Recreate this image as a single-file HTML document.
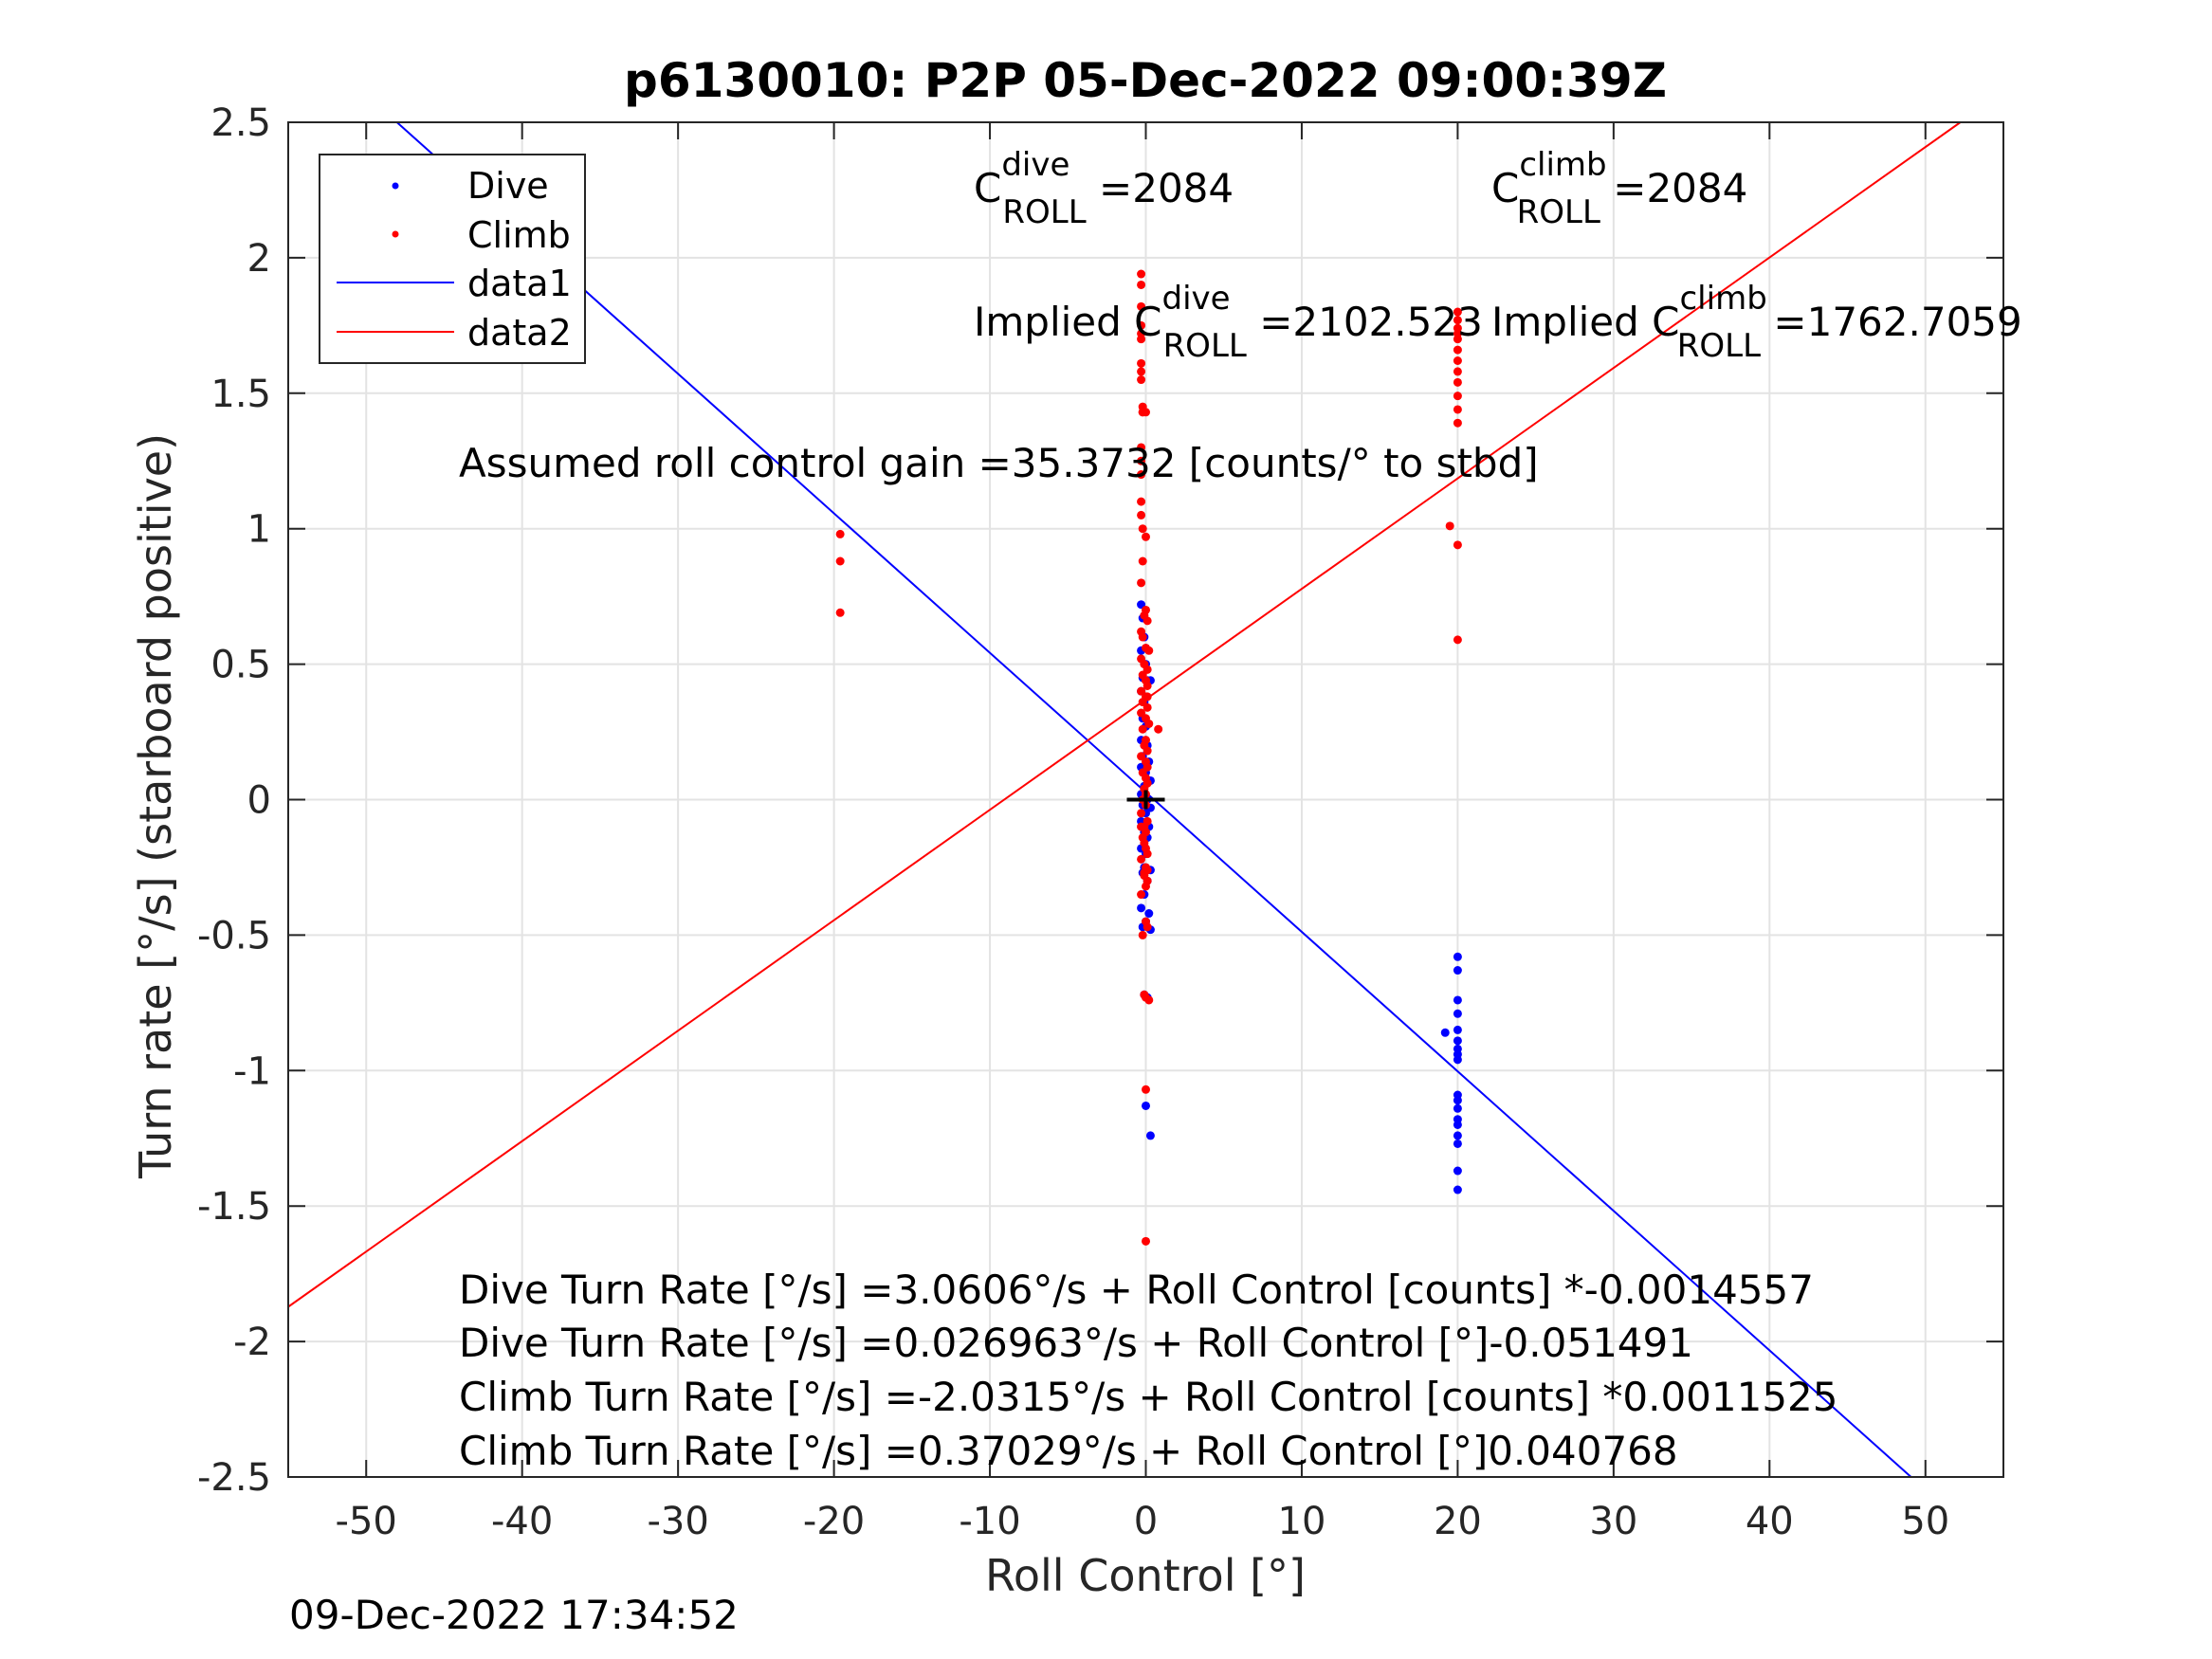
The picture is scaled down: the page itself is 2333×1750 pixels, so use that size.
<!DOCTYPE html>
<html><head><meta charset="utf-8"><style>
html,body{margin:0;padding:0;background:#fff}
svg{display:block;font-family:"DejaVu Sans","Liberation Sans",sans-serif}
</style></head><body>
<svg id="chart" width="2333" height="1750" viewBox="0 0 2333 1750" xmlns="http://www.w3.org/2000/svg">
<rect width="2333" height="1750" fill="#fff"/>
<g id="grid"></g>
<g id="lines"></g>
<g id="pts"></g>
<g id="axes"></g>
<text x="1208" y="102" text-anchor="middle" font-size="50" font-weight="bold" fill="#000">p6130010: P2P 05-Dec-2022 09:00:39Z</text>
<text x="1208" y="1678" text-anchor="middle" font-size="46" fill="#262626">Roll Control [°]</text>
<text transform="translate(180,850) rotate(-90)" text-anchor="middle" font-size="46" fill="#262626">Turn rate [°/s] (starboard positive)</text>
<text x="305" y="1718" font-size="42" fill="#000">09-Dec-2022 17:34:52</text>
<g font-size="42" fill="#000">
<text x="1027" y="213">C<tspan font-size="34" dy="-28">dive</tspan><tspan font-size="34" dx="-71" dy="50">ROLL</tspan><tspan dy="-22"> =2084</tspan></text>
<text x="1573" y="213">C<tspan font-size="34" dy="-28">climb</tspan><tspan font-size="34" dx="-95" dy="50">ROLL</tspan><tspan dy="-22"> =2084</tspan></text>
<text x="1027" y="354">Implied C<tspan font-size="34" dy="-28">dive</tspan><tspan font-size="34" dx="-71" dy="50">ROLL</tspan><tspan dy="-22"> =2102.523</tspan></text>
<text x="1573" y="354">Implied C<tspan font-size="34" dy="-28">climb</tspan><tspan font-size="34" dx="-95" dy="50">ROLL</tspan><tspan dy="-22"> =1762.7059</tspan></text>
<text x="484" y="503">Assumed roll control gain =35.3732 [counts/° to stbd]</text>
<text x="484" y="1375">Dive Turn Rate [°/s] =3.0606°/s + Roll Control [counts] *-0.0014557</text>
<text x="484" y="1431">Dive Turn Rate [°/s] =0.026963°/s + Roll Control [°]-0.051491</text>
<text x="484" y="1488">Climb Turn Rate [°/s] =-2.0315°/s + Roll Control [counts] *0.0011525</text>
<text x="484" y="1545">Climb Turn Rate [°/s] =0.37029°/s + Roll Control [°]0.040768</text>
</g>
<g>
<rect x="337" y="163" width="280" height="220" fill="#fff" stroke="#262626" stroke-width="2"/>
<circle cx="417" cy="196" r="3.5" fill="#00f"/>
<text x="493" y="209" font-size="38" fill="#000">Dive</text>
<circle cx="417" cy="247" r="3.5" fill="#f00"/>
<text x="493" y="261" font-size="38" fill="#000">Climb</text>
<line x1="355" y1="298" x2="479" y2="298" stroke="#00f" stroke-width="2"/>
<text x="493" y="312" font-size="38" fill="#000">data1</text>
<line x1="355" y1="350" x2="479" y2="350" stroke="#f00" stroke-width="2"/>
<text x="493" y="364" font-size="38" fill="#000">data2</text>
</g>
</svg>
<script>
const xTicks=[-50,-40,-30,-20,-10,0,10,20,30,40,50];
const yTicks=[-2.5,-2,-1.5,-1,-0.5,0,0.5,1,1.5,2,2.5];
const yTickLabels=["-2.5","-2","-1.5","-1","-0.5","0","0.5","1","1.5","2","2.5"];
const diveFit=[0.026963,-0.051491];
const climbFit=[0.37029,0.040768];
const climbX=[-0.3,-0.3,-0.3,-0.3,-0.3,-0.3,-0.3,-0.3,-0.3,-0.2,-0.2,-0.2,0,-0.3,-0.3,-0.3,-0.3,-0.3,-0.2,0,-0.2,-0.3,0,-0.1,0.1,-0.3,-0.2,0,0.2,-0.3,-0.1,0.1,-0.2,0,0.1,-0.3,0,-0.2,0.1,-0.3,0,0.2,-0.2,0,-0.1,0.1,-0.3,0,0.1,-0.2,0,0.1,-0.1,0,-0.2,0,0.8,-0.3,0.1,-0.1,0,-0.2,-0.1,0,0.1,-0.3,0,-0.1,0.1,0,-0.2,0.1,-0.1,0,0.2,-0.3,0,-0.1,0.1,0,-0.3,0,0.1,0,-19.6,-19.6,-19.6,20,20,20,20,20,20,20,20,20,20,20,20,19.5,20,20];
const climbY=[1.94,1.9,1.82,1.75,1.72,1.7,1.61,1.58,1.55,1.45,1.43,1.43,1.43,1.3,1.25,1.2,1.1,1.05,1.0,0.97,0.88,0.8,0.7,0.68,0.66,0.62,0.6,0.56,0.55,0.52,0.5,0.48,0.46,0.44,0.42,0.4,0.38,0.36,0.34,0.32,0.3,0.28,0.26,0.22,0.2,0.18,0.16,0.14,0.12,0.1,0.08,0.06,0.04,0.02,0.0,-0.02,0.26,-0.05,-0.08,-0.1,-0.12,-0.14,-0.16,-0.18,-0.2,-0.22,-0.25,-0.28,-0.3,-0.45,-0.5,-0.47,-0.72,-0.73,-0.74,-0.35,-0.32,-0.27,-0.26,-1.07,-0.1,0.44,0.38,-1.63,0.98,0.88,0.69,1.8,1.77,1.74,1.72,1.7,1.66,1.62,1.58,1.54,1.49,1.44,1.39,1.01,0.94,0.59];
const diveX=[-0.3,-0.2,-0.1,-0.3,0,-0.2,0.1,-0.3,-0.1,0.3,-0.2,0,-0.3,0.1,-0.2,0.2,-0.3,0,0.3,-0.1,-0.3,0.1,-0.2,0.3,0,-0.3,0.2,-0.1,0.1,-0.3,0,0.3,-0.2,0.1,-0.1,-0.3,0.2,0,-0.2,0.3,-0.1,0.1,0,0.3,-0.1,20,20,20,20,20,19.2,20,20,20,20,20,20,20,20,20,20,20,20,20];
const diveY=[0.72,0.67,0.6,0.55,0.5,0.45,0.44,0.4,0.36,0.44,0.3,0.27,0.22,0.2,0.16,0.14,0.12,0.1,0.07,0.05,0.02,0.0,-0.02,-0.03,-0.05,-0.08,-0.1,-0.12,-0.14,-0.18,-0.2,-0.26,-0.27,-0.3,-0.35,-0.4,-0.42,-0.45,-0.47,-0.48,-0.72,-0.73,-1.13,-1.24,-0.25,-0.58,-0.63,-0.74,-0.79,-0.85,-0.86,-0.89,-0.92,-0.94,-0.96,-1.09,-1.11,-1.14,-1.18,-1.2,-1.24,-1.27,-1.37,-1.44];

const L=304,R=2113,T=129,B=1558,xmin=-55,xmax=55,ymin=-2.5,ymax=2.5;
const sx=v=>L+(v-xmin)/(xmax-xmin)*(R-L);
const sy=v=>B-(v-ymin)/(ymax-ymin)*(B-T);
const NS="http://www.w3.org/2000/svg";
function mk(tag,attrs,parent){const e=document.createElementNS(NS,tag);for(const k in attrs)e.setAttribute(k,attrs[k]);parent.appendChild(e);return e;}
const grid=document.getElementById('grid'),axes=document.getElementById('axes'),lines=document.getElementById('lines'),pts=document.getElementById('pts');
xTicks.forEach(t=>{
  const g=mk('line',{x1:sx(t),x2:sx(t),y1:T,y2:B,stroke:'#e3e3e3','stroke-width':2},grid);
  
  
  const a=mk('line',{x1:sx(t),x2:sx(t),y1:B,y2:B-18,stroke:'#262626','stroke-width':2},axes);
  
  
  const b=mk('line',{x1:sx(t),x2:sx(t),y1:T,y2:T+18,stroke:'#262626','stroke-width':2},axes);
  
  
  const tx=mk('text',{x:sx(t),y:1618,'text-anchor':'middle','font-size':40,fill:'#262626'},axes);
  tx.textContent=String(t);
  
  
});
yTicks.forEach((t,i)=>{
  const g=mk('line',{x1:L,x2:R,y1:sy(t),y2:sy(t),stroke:'#e3e3e3','stroke-width':2},grid);
  
  
  const a=mk('line',{x1:L,x2:L+18,y1:sy(t),y2:sy(t),stroke:'#262626','stroke-width':2},axes);
  
  
  const b=mk('line',{x1:R,x2:R-18,y1:sy(t),y2:sy(t),stroke:'#262626','stroke-width':2},axes);
  
  
  const tx=mk('text',{x:286,y:sy(t)+14,'text-anchor':'end','font-size':40,fill:'#262626'},axes);
  tx.textContent=yTickLabels[i];
  
  
});
const box=mk('rect',{x:L,y:T,width:R-L,height:B-T,fill:'none',stroke:'#262626','stroke-width':2},axes);


function fitLine(c,color,name){
  let x1=xmin,x2=xmax,y1=c[0]+c[1]*x1,y2=c[0]+c[1]*x2;
  const clipX=y=>(y-c[0])/c[1];
  if(y1>ymax){x1=clipX(ymax);y1=ymax}if(y1<ymin){x1=clipX(ymin);y1=ymin}
  if(y2>ymax){x2=clipX(ymax);y2=ymax}if(y2<ymin){x2=clipX(ymin);y2=ymin}
  const l=mk('line',{x1:sx(x1),y1:sy(y1),x2:sx(x2),y2:sy(y2),stroke:color,'stroke-width':2},lines);
  
  
}
fitLine(diveFit,'#00f','dive-fit-line');
fitLine(climbFit,'#f00','climb-fit-line');
diveX.forEach((x,i)=>{
  const c=mk('circle',{cx:sx(x),cy:sy(diveY[i]),r:4.5,fill:'#00f'},pts);
  
  
});
climbX.forEach((x,i)=>{
  const c=mk('circle',{cx:sx(x),cy:sy(climbY[i]),r:4.5,fill:'#f00'},pts);
  
  
});
const ch=mk('path',{d:`M${sx(0)-20},${sy(0)}H${sx(0)+20}M${sx(0)},${sy(0)-10}V${sy(0)+10}`,stroke:'#000','stroke-width':4,fill:'none'},pts);


</script>
</body></html>
